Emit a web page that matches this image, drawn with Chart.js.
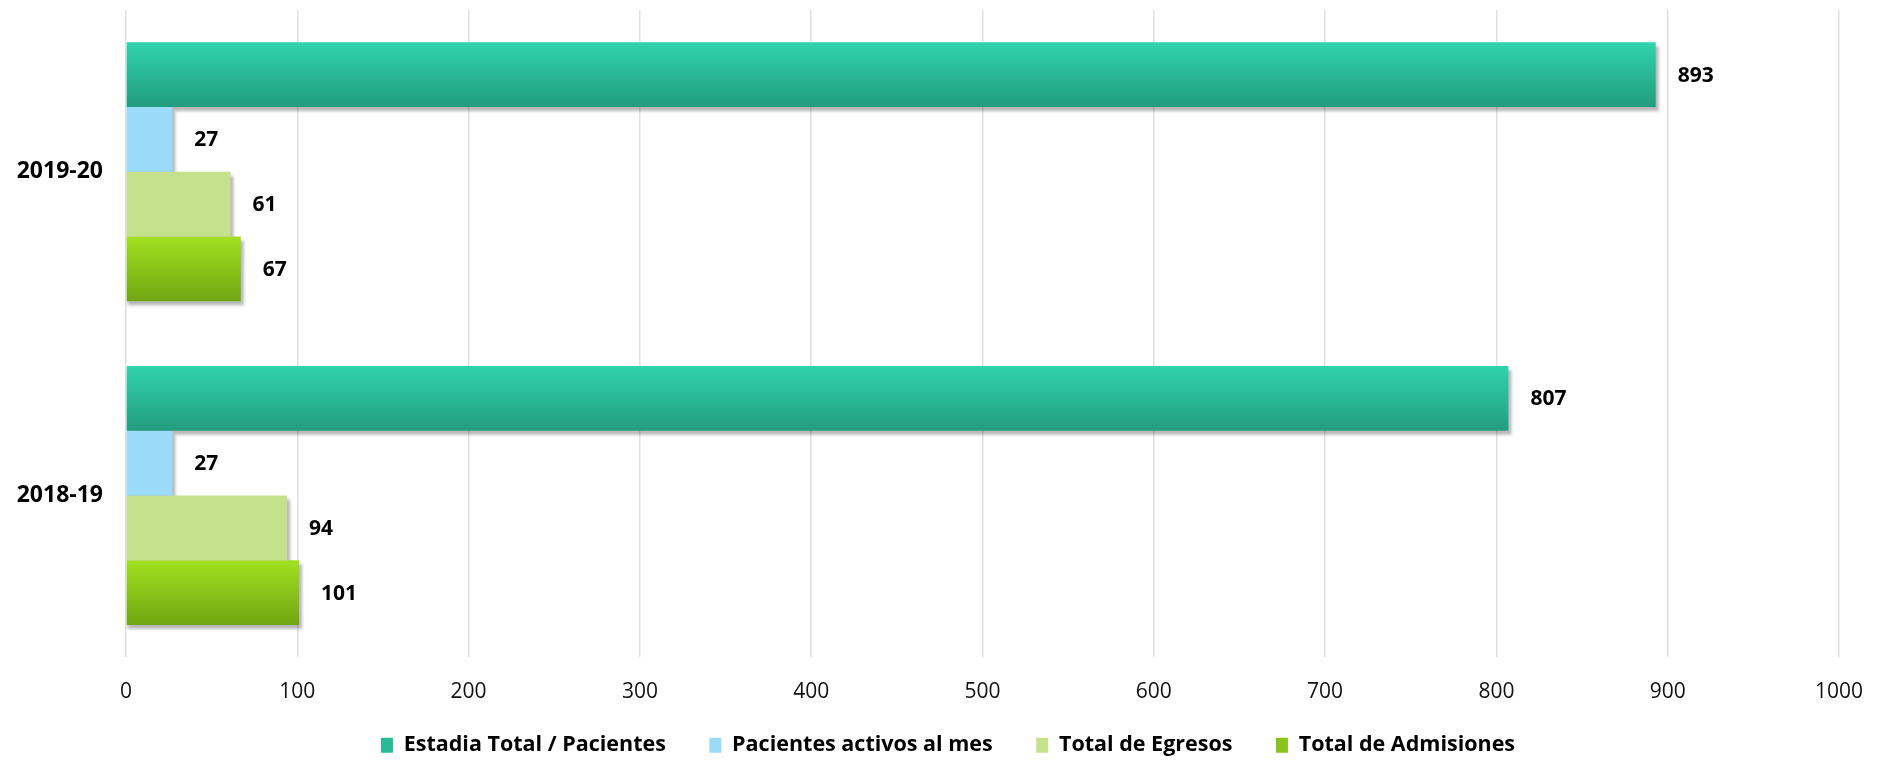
<!DOCTYPE html>
<html>
<head>
<meta charset="utf-8">
<script src="https://cdn.jsdelivr.net/npm/chart.js@4"></script>
<style>
  html, body { margin: 0; padding: 0; background: #fff; }
  #wrap { width: 1896px; height: 776px; }
</style>
</head>
<body>
<div id="wrap"><canvas id="stays"></canvas></div>
<script>
const periods = ['2019-20', '2018-19'];
const estadiaTotal = [893, 807];
const pacientesActivos = [27, 27];
const totalEgresos = [61, 94];
const totalAdmisiones = [67, 101];
const seriesNames = ['Estadia Total / Pacientes', 'Pacientes activos al mes', 'Total de Egresos', 'Total de Admisiones'];
const xTicks = { min: 0, max: 1000, step: 100 };

const FONT = "'Open Sans', 'Noto Sans', sans-serif";

// gradients, shadow and value labels for the bars
const barLook = {
    id: 'barLook',
    afterDatasetsUpdate(chart) {
        const c = chart.ctx;
        chart.data.datasets.forEach((ds, i) => {
            if (!ds.gradient) return;
            chart.getDatasetMeta(i).data.forEach(el => {
                const { y, height } = el.getProps(['y', 'height'], true);
                const g = c.createLinearGradient(0, y - height / 2, 0, y + height / 2);
                g.addColorStop(0, ds.gradient[0]);
                g.addColorStop(1, ds.gradient[1]);
                el.options = Object.assign({}, el.options, { backgroundColor: g });
            });
        });
    },
    beforeDatasetsDraw(chart) {
        const c = chart.ctx;
        c.save();
        c.filter = 'blur(1.5px)';
        c.fillStyle = 'rgba(0,0,0,0.28)';
        chart.data.datasets.forEach((ds, i) => {
            chart.getDatasetMeta(i).data.forEach(el => {
                const { x, y, base, height } = el.getProps(['x', 'y', 'base', 'height'], true);
                c.fillRect(base + 1, y - height / 2 + 4, x - base + 2, height);
            });
        });
        c.restore();
    },
    afterDatasetsDraw(chart) {
        const c = chart.ctx;
        c.save();
        c.font = 'bold 21px ' + FONT;
        c.fillStyle = '#000';
        c.textAlign = 'left';
        c.textBaseline = 'middle';
        chart.data.datasets.forEach((ds, i) => {
            chart.getDatasetMeta(i).data.forEach((el, j) => {
                c.fillText(ds.data[j], el.x + 22, el.y + 1);
            });
        });
        c.restore();
    }
};

(function () {
    const ctx = document.getElementById('stays');
    new Chart(ctx, {
        type: 'bar',
        data: {
            labels: periods,
            datasets: [{
                label: seriesNames[0],
                data: estadiaTotal,
                backgroundColor: '#29bb97',
                gradient: ['#30d3ac', '#229d7e'],
            },
            {
                label: seriesNames[1],
                data: pacientesActivos,
                backgroundColor: '#99dbf8',
            },
            {
                label: seriesNames[2],
                data: totalEgresos,
                backgroundColor: '#c5e18c',
            },
            {
                label: seriesNames[3],
                data: totalAdmisiones,
                backgroundColor: '#88c41a',
                gradient: ['#a2e120', '#70a612'],
            }]
        },
        options: {
            indexAxis: 'y',
            responsive: true,
            maintainAspectRatio: false,
            animation: false,
            datasets: {
                bar: { categoryPercentage: 0.8, barPercentage: 1.0 }
            },
            layout: {
                padding: { top: 10, right: 0, bottom: 10, left: 0 }
            },
            scales: {
                x: {
                    min: xTicks.min,
                    max: xTicks.max,
                    border: { display: false },
                    grid: { color: '#dde2e2', lineWidth: 1.5, drawTicks: false },
                    ticks: {
                        stepSize: xTicks.step,
                        padding: 22,
                        color: '#111',
                        font: { family: FONT, size: 21 },
                        callback: (v) => String(v)
                    },
                    afterFit: (scale) => {
                        scale.height -= 2;
                        scale.paddingRight = 57;
                    }
                },
                y: {
                    border: { display: false },
                    grid: { display: false, drawTicks: false },
                    ticks: {
                        padding: 23,
                        color: '#000',
                        font: { family: FONT, size: 23, weight: 'bold' }
                    },
                    afterFit: (scale) => {
                        scale.width = 126;
                        scale.paddingTop = 0;
                        scale.paddingBottom = 0;
                    }
                }
            },
            plugins: {
                legend: {
                    position: 'bottom',
                    labels: {
                        boxWidth: 12,
                        boxHeight: 15,
                        padding: 10,
                        color: '#000',
                        font: { family: FONT, size: 21.5, weight: 'bold' },
                        generateLabels(chart) {
                            const items = Chart.defaults.plugins.legend.labels.generateLabels(chart);
                            // wider gaps between entries
                            items.forEach((it, k) => {
                                it.lineWidth = 0;
                                if (k < items.length - 1) it.text = it.text + '      ';
                            });
                            return items;
                        }
                    }
                },
                tooltip: { enabled: false }
            }
        },
        plugins: [barLook]
    });
})();
</script>
</body>
</html>
